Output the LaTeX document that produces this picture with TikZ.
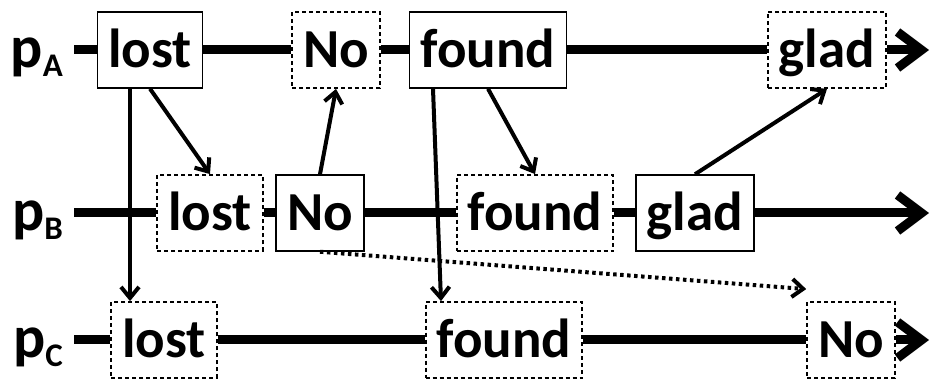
\documentclass[tikz,border=0pt]{standalone}
\usepackage{fontspec}
\setmainfont{Carlito}
\usepackage{tikz}
\usetikzlibrary{arrows.meta}
\newcommand{\pname}[1]{p\raisebox{-9pt}{\fontsize{33}{33}\selectfont #1}}

\begin{document}
\begin{tikzpicture}[x=1pt,y=-1pt]
\tikzstyle{evt}=[rectangle, draw=black, line width=1.5pt, fill=white, minimum height=76pt, inner xsep=11pt, inner ysep=0pt, text height=40pt, text depth=4pt, font=\fontsize{55}{60}\selectfont\bfseries]
\tikzstyle{ghost}=[evt, line width=1.8pt, dash pattern=on 4pt off 3pt]
\tikzstyle{proc}=[anchor=base east, inner sep=0pt, font=\fontsize{60}{66}\selectfont\bfseries]
\tikzstyle{rail}=[line width=9pt]
\tikzstyle{railend}=[rail, -{Straight Barb[length=24pt,width=36pt]}]
\tikzstyle{msg}=[line width=4pt, -{Straight Barb[length=11pt,width=18pt]}]
\tikzstyle{late}=[msg, dash pattern=on 3.5pt off 3.5pt]
\useasboundingbox (0,0) rectangle (935,379);
	% processes
	\node[proc] (pA) at (63,68) {\pname{A}};
	\node[proc] (pB) at (63,231) {\pname{B}};
	\node[proc] (pC) at (63,358) {\pname{C}};
	\coordinate (startA) at (74,50);
	\coordinate (startB) at (74,213);
	\coordinate (startC) at (74,340);
	\coordinate (endA) at (929,50);
	\coordinate (endB) at (929,213);
	\coordinate (endC) at (929,340);

	% events
	\node[evt] (lostA) at (150,50) {lost};
	\node[ghost] (noA) at (336,50) {No};
	\node[evt] (foundA) at (488,50) {found};
	\node[ghost] (gladA) at (827,50) {glad};

	\node[ghost] (lostB) at (210,213) {lost};
	\node[evt] (noB) at (320,213) {No};
	\node[ghost] (foundB) at (535,213) {found};
	\node[evt] (gladB) at (695,213) {glad};

	\node[ghost] (lostC) at (164,340) {lost};
	\node[ghost] (foundC) at (504,340) {found};
	\node[ghost] (noC) at (851,340) {No};

	\draw[rail] (startA) -- (lostA) -- (noA) -- (foundA) -- (gladA);
	\draw[railend] (gladA) -- (endA);
	\draw[rail] (startB) -- (lostB) -- (noB) -- (foundB) -- (gladB);
	\draw[railend] (gladB) -- (endB);
	\draw[rail] (startC) -- (lostC) -- (foundC) -- (noC);
	\draw[railend] (noC) -- (endC);

	\path
		([xshift=-20pt]lostA.south) edge [msg] ([xshift=-20pt]lostA.south |- lostC.north)
		(lostA.south) edge [msg] (lostB.north)
		(noB.north) edge [msg] (noA.south)
		([xshift=-55pt]foundA.south) edge [msg] ([xshift=-63pt]foundC.north)
		(foundA.south) edge [msg] (foundB.north)
		(gladB.north) edge [msg] (gladA.south)
		(noB.south) edge [late] ([yshift=12pt]noC.north west);
\end{tikzpicture}
\end{document}
